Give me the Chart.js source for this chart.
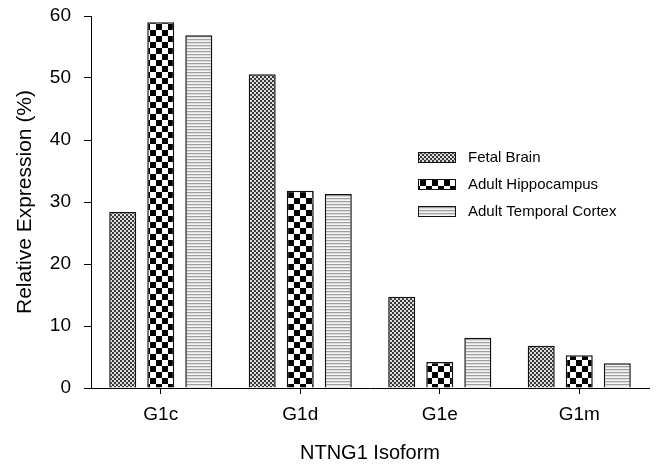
<!DOCTYPE html>
<html>
<head>
<meta charset="utf-8">
<script src="https://cdn.jsdelivr.net/npm/chart.js@4/dist/chart.umd.min.js"></script>
<style>
  html, body { margin: 0; padding: 0; background: #fff; }
  #wrap { width: 656px; height: 465px; position: relative; }
</style>
</head>
<body>
<div id="wrap"><canvas id="c"></canvas></div>
<script>
const categories = ['G1c', 'G1d', 'G1e', 'G1m'];
const seriesNames = ['Fetal Brain', 'Adult Hippocampus', 'Adult Temporal Cortex'];
const fetalBrain = [28.4, 50.6, 14.7, 6.8];
const adultHippocampus = [59.0, 31.8, 4.2, 5.3];
const adultTemporalCortex = [56.9, 31.3, 8.1, 4.0];
const yTickMin = 0, yTickMax = 60, yTickStep = 10;
const xTitle = 'NTNG1 Isoform';
const yTitle = 'Relative Expression (%)';

const FONT = "'Liberation Sans', Arial, Helvetica, sans-serif";

function makePattern(w, h, draw) {
  const c = document.createElement('canvas');
  c.width = w; c.height = h;
  const g = c.getContext('2d');
  draw(g);
  return g.createPattern(c, 'repeat');
}
const fineChecker = makePattern(4, 4, g => {
  g.fillStyle = '#dcdcdc'; g.fillRect(0, 0, 4, 4);
  g.fillStyle = '#3a3a3a'; g.fillRect(0, 0, 2, 2); g.fillRect(2, 2, 2, 2);
});
const bigChecker = makePattern(12, 12, g => {
  g.fillStyle = '#ffffff'; g.fillRect(0, 0, 12, 12);
  g.fillStyle = '#000000'; g.fillRect(0, 0, 6, 6); g.fillRect(6, 6, 6, 6);
});
const hStripes = makePattern(1, 3, g => {
  g.fillStyle = '#f4f4f4'; g.fillRect(0, 0, 1, 3);
  g.fillStyle = '#a0a0a0'; g.fillRect(0, 0, 1, 1);
  g.fillStyle = '#dedede'; g.fillRect(0, 1, 1, 1);
});
const fills = [fineChecker, bigChecker, hStripes];

const legendPlugin = {
  id: 'insideLegend',
  afterDraw(chart) {
    const ctx = chart.ctx;
    ctx.save();
    const x0 = 418, y0 = 152, rowH = 27, bw = 38, bh = 11;
    chart.data.datasets.forEach((ds, i) => {
      const y = y0 + i * rowH;
      ctx.fillStyle = ds.backgroundColor;
      ctx.fillRect(x0, y, bw, bh);
      ctx.strokeStyle = '#111';
      ctx.lineWidth = 1;
      ctx.strokeRect(x0 + 0.5, y + 0.5, bw - 1, bh - 1);
      ctx.fillStyle = '#000';
      ctx.font = '15px ' + FONT;
      ctx.textBaseline = 'middle';
      ctx.textAlign = 'left';
      ctx.fillText(ds.label, x0 + 50, y + bh / 2 + 0.5);
    });
    ctx.restore();
  }
};

new Chart(document.getElementById('c'), {
  type: 'bar',
  data: {
    labels: categories,
    datasets: [
      { label: seriesNames[0], data: fetalBrain, backgroundColor: fills[0] },
      { label: seriesNames[1], data: adultHippocampus, backgroundColor: fills[1] },
      { label: seriesNames[2], data: adultTemporalCortex, backgroundColor: fills[2] }
    ]
  },
  options: {
    responsive: true,
    maintainAspectRatio: false,
    animation: false,
    devicePixelRatio: 1,
    layout: { padding: { top: 16, right: 7, left: 0, bottom: 0 } },
    datasets: {
      bar: {
        categoryPercentage: 0.818,
        barPercentage: 0.71,
        borderColor: '#111',
        borderWidth: 1.5
      }
    },
    plugins: {
      legend: { display: false },
      tooltip: { enabled: false },
      title: { display: false }
    },
    scales: {
      x: {
        type: 'category',
        offset: true,
        grid: { display: true, drawOnChartArea: false, drawTicks: true, tickLength: 6, offset: false, color: '#000', lineWidth: 1 },
        border: { display: true, color: '#000', width: 1 },
        ticks: { color: '#000', font: { family: FONT, size: 19 }, padding: 9, maxRotation: 0 },
        title: { display: true, text: xTitle, color: '#000', font: { family: FONT, size: 20 }, padding: { top: 0, bottom: 0 } },
        afterFit(scale) { scale.height = 77; scale.paddingLeft = 0; scale.paddingRight = 0; }
      },
      y: {
        min: yTickMin,
        max: yTickMax,
        grid: { display: true, drawOnChartArea: false, drawTicks: true, tickLength: 7, color: '#000', lineWidth: 1 },
        border: { display: true, color: '#000', width: 1 },
        ticks: { stepSize: yTickStep, color: '#000', font: { family: FONT, size: 19 }, padding: 13 },
        title: { display: true, text: yTitle, color: '#000', font: { family: FONT, size: 21 }, padding: { top: 13, bottom: 0 } },
        afterFit(scale) { scale.width = 91; scale.paddingTop = 0; scale.paddingBottom = 0; }
      }
    }
  },
  plugins: [legendPlugin]
});
</script>
</body>
</html>
